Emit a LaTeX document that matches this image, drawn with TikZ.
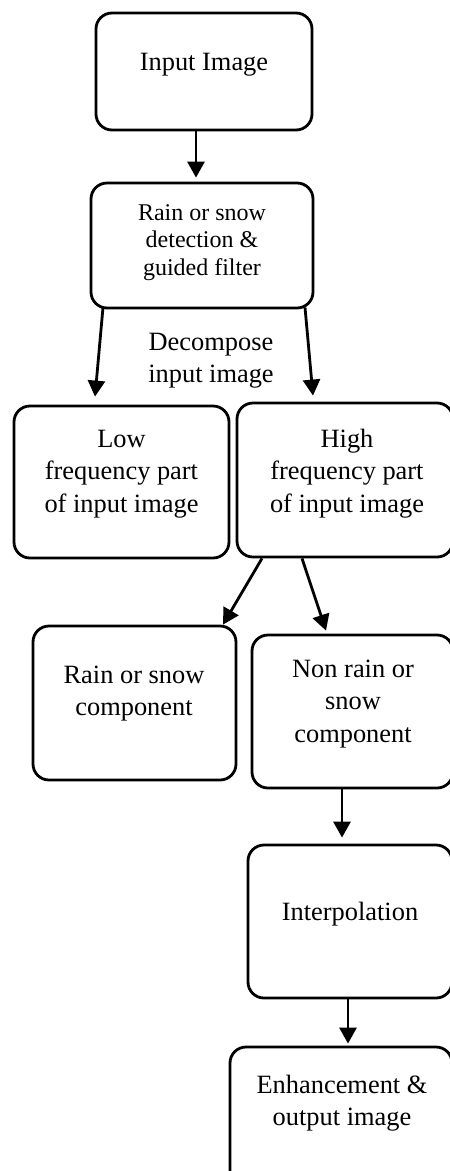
\documentclass[tikz,border=0pt]{standalone}
\usepackage{fontspec}
\setmainfont{Liberation Serif}
\usetikzlibrary{arrows.meta}
\newcommand\mlines[1]{\begin{tabular}[t]{@{}c@{}}#1\end{tabular}}
\tikzset{
  box/.style={draw=black, line width=2.8pt, rounded corners=16pt, inner sep=0pt},
  lbl/.style={anchor=base, inner sep=0pt, font=\fontsize{26.4}{32.5}\selectfont},
  lblsmall/.style={anchor=base, inner sep=0pt, font=\fontsize{24}{27.5}\selectfont},
  arr/.style={line width=2.8pt, -{Triangle[length=16pt,width=17pt]}},
}
\begin{document}
\begin{tikzpicture}[x=1pt,y=-1pt]
\useasboundingbox (0,0) rectangle (450,1171);
\clip (0,0) rectangle (450,1171);
\fill[white] (0,0) rectangle (450,1171);

\node[box, minimum width=216pt, minimum height=117pt] (b1) at (204,71.5) {};
\node[lbl] (t1) at (204,70) {Input Image};

\node[box, minimum width=222pt, minimum height=125pt] (b2) at (202,245.5) {};
\node[lblsmall] (t2) at (202,220) {\mlines{Rain or snow\\detection \&\\guided filter}};

\node[lbl] (dec) at (211,350) {\mlines{Decompose\\input image}};

\node[box, minimum width=215pt, minimum height=152pt] (low) at (121.5,482) {};
\node[lbl] (tlow) at (121.5,447) {\mlines{Low\\frequency part\\of input image}};

\node[box, minimum width=216pt, minimum height=154pt] (high) at (345,480) {};
\node[lbl] (thigh) at (347,447) {\mlines{High\\frequency part\\of input image}};

\node[box, minimum width=203pt, minimum height=154pt] (rain) at (134.5,703) {};
\node[lbl] (train) at (134,683) {\mlines{Rain or snow\\component}};

\node[box, minimum width=201pt, minimum height=153pt] (nonrain) at (352.5,711.5) {};
\node[lbl] (tnon) at (353,677) {\mlines{Non rain or\\snow\\component}};

\node[box, minimum width=204pt, minimum height=153pt] (interp) at (350,921.5) {};
\node[lbl] (tint) at (350,920) {Interpolation};

\node[box, minimum width=222pt, minimum height=160pt] (enh) at (341,1127) {};
\node[lbl] (tenh) at (342,1093) {\mlines{Enhancement \&\\output image}};

\draw[arr] ([xshift=-8pt]b1.south) -- ([xshift=-6pt,yshift=4pt]b2.north);
\draw[arr] ([xshift=-99pt,yshift=2pt]b2.south) -- ([xshift=-26.5pt,yshift=8pt]low.north);
\draw[arr] ([xshift=103pt,yshift=2pt]b2.south) -- ([xshift=-32pt,yshift=6pt]high.north);
\draw[arr] ([xshift=-83pt]high.south) -- ([xshift=88.5pt]rain.north);
\draw[arr] ([xshift=-43pt]high.south) -- ([xshift=-26.5pt,yshift=3pt]nonrain.north);
\draw[arr] ([xshift=-10.5pt]nonrain.south) -- ([xshift=-8pt,yshift=6pt]interp.north);
\draw[arr] ([xshift=-2pt]interp.south) -- ([xshift=7pt,yshift=2pt]enh.north);
\end{tikzpicture}
\end{document}
